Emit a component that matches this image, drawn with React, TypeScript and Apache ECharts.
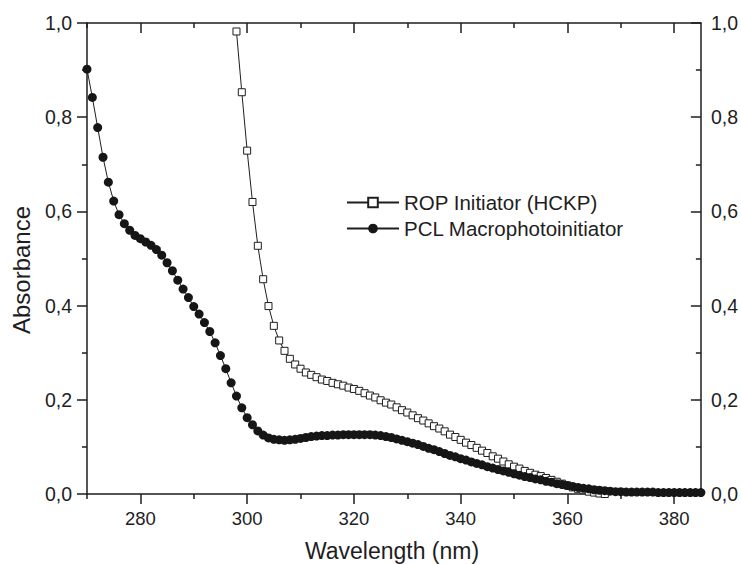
import React, { useEffect, useRef } from "react";
import * as echarts from "echarts";

// PCL Macrophotoinitiator (filled circles), wavelength in nm
const pclWavelength = [
  270, 271, 272, 273, 274, 275, 276, 277, 278, 279, 280, 281, 282, 283, 284, 285, 286, 287, 288, 289,
  290, 291, 292, 293, 294, 295, 296, 297, 298, 299, 300, 301, 302, 303, 304, 305, 306, 307, 308, 309,
  310, 311, 312, 313, 314, 315, 316, 317, 318, 319, 320, 321, 322, 323, 324, 325, 326, 327, 328, 329,
  330, 331, 332, 333, 334, 335, 336, 337, 338, 339, 340, 341, 342, 343, 344, 345, 346, 347, 348, 349,
  350, 351, 352, 353, 354, 355, 356, 357, 358, 359, 360, 361, 362, 363, 364, 365, 366, 367, 368, 369,
  370, 371, 372, 373, 374, 375, 376, 377, 378, 379, 380, 381, 382, 383, 384, 385,
];
const pclAbsorbance = [
  0.902, 0.842, 0.778, 0.715, 0.662, 0.622, 0.593, 0.574, 0.56, 0.549, 0.542, 0.535, 0.528, 0.519, 0.507, 0.491, 0.474, 0.454, 0.435, 0.417,
  0.398, 0.382, 0.364, 0.345, 0.321, 0.294, 0.266, 0.236, 0.208, 0.183, 0.162, 0.147, 0.134, 0.125, 0.119, 0.116, 0.115, 0.114, 0.115, 0.116,
  0.118, 0.12, 0.122, 0.123, 0.124, 0.124, 0.125, 0.125, 0.126, 0.126, 0.126, 0.126, 0.126, 0.126, 0.125, 0.124, 0.122, 0.12, 0.117, 0.114,
  0.111, 0.108, 0.105, 0.101, 0.097, 0.094, 0.09, 0.086, 0.082, 0.079, 0.075, 0.072, 0.068, 0.065, 0.062, 0.058, 0.055, 0.052, 0.049, 0.046,
  0.043, 0.04, 0.037, 0.035, 0.032, 0.03, 0.027, 0.025, 0.022, 0.02, 0.018, 0.016, 0.014, 0.012, 0.011, 0.009, 0.008, 0.007, 0.006, 0.005,
  0.005, 0.004, 0.004, 0.004, 0.004, 0.004, 0.004, 0.003, 0.003, 0.003, 0.003, 0.003, 0.003, 0.003, 0.003, 0.003,
];

// ROP Initiator (HCKP) (open squares)
const ropWavelength = [
  298, 299, 300, 301, 302, 303, 304, 305, 306, 307, 308, 309, 310, 311, 312, 313, 314, 315, 316, 317,
  318, 319, 320, 321, 322, 323, 324, 325, 326, 327, 328, 329, 330, 331, 332, 333, 334, 335, 336, 337,
  338, 339, 340, 341, 342, 343, 344, 345, 346, 347, 348, 349, 350, 351, 352, 353, 354, 355, 356, 357,
  358, 359, 360, 361, 362, 363, 364, 365, 366, 367,
];
const ropAbsorbance = [
  0.982, 0.853, 0.729, 0.62, 0.527, 0.456, 0.399, 0.357, 0.326, 0.304, 0.287, 0.275, 0.266, 0.258, 0.253, 0.248, 0.243, 0.24, 0.236, 0.233,
  0.23, 0.226, 0.223, 0.219, 0.214, 0.209, 0.205, 0.199, 0.194, 0.19, 0.184, 0.178, 0.173, 0.167, 0.161, 0.156, 0.15, 0.144, 0.139, 0.133,
  0.126, 0.121, 0.115, 0.109, 0.104, 0.098, 0.092, 0.087, 0.08, 0.075, 0.069, 0.063, 0.058, 0.054, 0.049, 0.045, 0.041, 0.038, 0.034, 0.03,
  0.026, 0.022, 0.018, 0.014, 0.011, 0.008, 0.005, 0.003, 0.001, 0.0,
];

const xMajorTicks = [280, 300, 320, 340, 360, 380];
const xMinorTicks = [270, 290, 310, 330, 350, 370];
const yTicks = [0, 0.2, 0.4, 0.6, 0.8, 1.0];

const ropName = "ROP Initiator (HCKP)";
const pclName = "PCL Macrophotoinitiator";

const FONT = '"Liberation Sans", Arial, Helvetica, sans-serif';
const INK = "#1e1e1e";

export default function App() {
  const ref = useRef<HTMLDivElement>(null);

  useEffect(() => {
    if (!ref.current) return;
    const chart = echarts.init(ref.current, null, { renderer: "svg" });

    const line = { show: true, onZero: false, lineStyle: { color: INK, width: 1.5 } };
    const tickStyle = { color: INK, width: 1.5 };
    const fmtY = (v: number) => v.toFixed(1).replace(".", ",");

    const option: any = {
      animation: false,
      backgroundColor: "#fff",
      textStyle: { fontFamily: FONT },
      grid: { left: 87, right: 39, top: 23, bottom: 70, containLabel: false },
      legend: {
        orient: "vertical",
        left: 346,
        top: 192,
        padding: 0,
        itemWidth: 52,
        itemHeight: 12,
        itemGap: 5,
        data: [ropName, pclName],
        textStyle: { fontSize: 20.5, color: INK, fontFamily: FONT },
      },
      xAxis: [
        {
          type: "value",
          position: "bottom",
          min: 270,
          max: 385,
          axisLine: line,
          axisTick: { show: true, length: 10, customValues: xMajorTicks, lineStyle: tickStyle },
          axisLabel: { customValues: xMajorTicks, margin: 15, fontSize: 18.5, color: INK, fontFamily: FONT },
          splitLine: { show: false },
        },
        {
          type: "value",
          position: "bottom",
          min: 270,
          max: 385,
          axisLine: { show: false, onZero: false },
          axisTick: { show: true, length: 5, customValues: xMinorTicks, lineStyle: tickStyle },
          axisLabel: { show: false },
          splitLine: { show: false },
        },
        {
          type: "value",
          position: "top",
          min: 270,
          max: 385,
          axisLine: line,
          axisTick: { show: true, inside: true, length: 10, customValues: xMajorTicks, lineStyle: tickStyle },
          axisLabel: { show: false },
          splitLine: { show: false },
        },
        {
          type: "value",
          position: "top",
          min: 270,
          max: 385,
          axisLine: { show: false, onZero: false },
          axisTick: { show: true, inside: true, length: 5, customValues: xMinorTicks, lineStyle: tickStyle },
          axisLabel: { show: false },
          splitLine: { show: false },
        },
      ],
      yAxis: [
        {
          type: "value",
          position: "left",
          min: 0,
          max: 1,
          interval: 0.2,
          axisLine: line,
          axisTick: { show: true, length: 10, customValues: yTicks, lineStyle: tickStyle },
          minorTick: { show: true, splitNumber: 2, length: 5, lineStyle: tickStyle },
          axisLabel: { customValues: yTicks, formatter: fmtY, margin: 15, fontSize: 19.5, color: INK, fontFamily: FONT },
          splitLine: { show: false },
          minorSplitLine: { show: false },
        },
        {
          type: "value",
          position: "right",
          min: 0,
          max: 1,
          interval: 0.2,
          axisLine: line,
          axisTick: { show: true, inside: true, length: 10, customValues: yTicks, lineStyle: tickStyle },
          minorTick: { show: true, splitNumber: 2, length: 5, lineStyle: tickStyle },
          axisLabel: { customValues: yTicks, formatter: fmtY, margin: 10, fontSize: 19.5, color: INK, fontFamily: FONT },
          splitLine: { show: false },
          minorSplitLine: { show: false },
        },
      ],
      graphic: [
        {
          type: "text",
          x: 392,
          y: 551,
          style: {
            text: "Wavelength (nm)",
            font: `23px ${FONT}`,
            fill: INK,
            textAlign: "center",
            textVerticalAlign: "middle",
          },
        },
        {
          type: "text",
          x: 21,
          y: 270,
          rotation: Math.PI / 2,
          style: {
            text: "Absorbance",
            font: `24px ${FONT}`,
            fill: INK,
            textAlign: "center",
            textVerticalAlign: "middle",
          },
        },
      ],
      series: [
        {
          name: ropName,
          type: "line",
          xAxisIndex: 0,
          yAxisIndex: 0,
          data: ropWavelength.map((w, i) => [w, ropAbsorbance[i]]),
          symbol: "rect",
          symbolSize: 7,
          showAllSymbol: true,
          lineStyle: { color: INK, width: 1 },
          itemStyle: { color: "#fff", borderColor: INK, borderWidth: 1 },
          emphasis: { disabled: true },
        },
        {
          name: pclName,
          type: "line",
          xAxisIndex: 0,
          yAxisIndex: 0,
          data: pclWavelength.map((w, i) => [w, pclAbsorbance[i]]),
          symbol: "circle",
          symbolSize: 9,
          showAllSymbol: true,
          lineStyle: { color: INK, width: 1 },
          itemStyle: { color: "#161616", borderColor: "#161616", borderWidth: 0 },
          emphasis: { disabled: true },
        },
      ],
    };

    chart.setOption(option);
    return () => chart.dispose();
  }, []);

  return (
    <div
      ref={ref}
      style={{ position: "fixed", left: 0, top: 0, width: 741, height: 564, background: "#fff" }}
    />
  );
}
